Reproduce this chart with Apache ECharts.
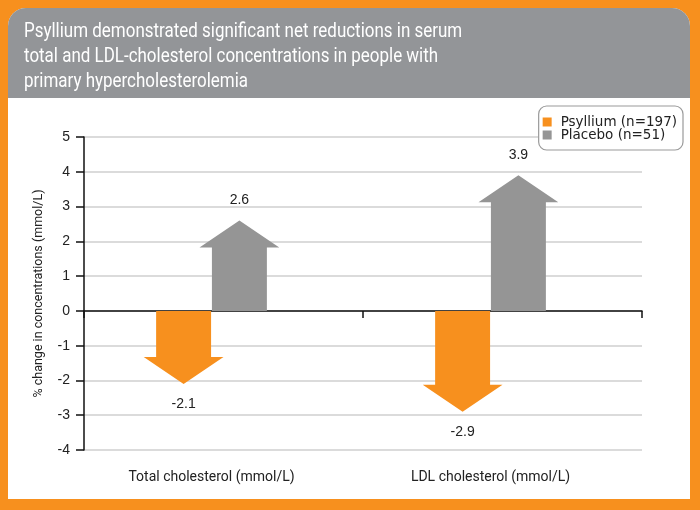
<!DOCTYPE html>
<html>
<head>
<meta charset="utf-8">
<script src="https://cdn.jsdelivr.net/npm/echarts@6/dist/echarts.min.js"></script>
<style>
html,body{margin:0;padding:0;background:#F7901E;}
#c{width:700px;height:510px;}
</style>
</head>
<body>
<div id="c"></div>
<script>
const titleLines = [
  'Psyllium demonstrated significant net reductions in serum',
  'total and LDL-cholesterol concentrations in people with',
  'primary hypercholesterolemia'
];
const categories = ['Total cholesterol (mmol/L)', 'LDL cholesterol (mmol/L)'];
const seriesNames = ['Psyllium (n=197)', 'Placebo (n=51)'];
const psyllium = [-2.1, -2.9];
const placebo = [2.6, 3.9];
const yAxisName = '% change in concentrations (mmol/L)';
const yMin = -4, yMax = 5, yStep = 1;

const ORANGE = '#F7901E';
const GRAY = '#959595';
const NARROW = 'Roboto, "Liberation Sans", sans-serif';

function arrowRenderer(side) {
  return function (params, api) {
    const ci = api.value(0);
    const v = api.value(1);
    const base = api.coord([ci, 0]);
    const tip = api.coord([ci, v]);
    const bw = api.size([1, 0])[0];
    const cx = base[0] - 0.043 * bw + side * 0.1 * bw;
    const bodyHalf = 0.0985 * bw;
    const headHalf = 0.143 * bw;
    const dir = tip[1] < base[1] ? -1 : 1;
    const headH = 27;
    const neckY = tip[1] - dir * headH;
    const pts = [
      [cx - bodyHalf, base[1]],
      [cx - bodyHalf, neckY],
      [cx - headHalf, neckY],
      [cx, tip[1]],
      [cx + headHalf, neckY],
      [cx + bodyHalf, neckY],
      [cx + bodyHalf, base[1]]
    ];
    return {
      type: 'group',
      children: [
        { type: 'polygon', shape: { points: pts }, style: { fill: api.visual('color') } },
        {
          type: 'text',
          style: {
            text: v.toFixed(1),
            x: cx,
            y: tip[1] + dir * 13,
            align: 'center',
            verticalAlign: dir < 0 ? 'bottom' : 'top',
            fill: '#222',
            font: '14px "Liberation Sans", Arial, sans-serif'
          }
        }
      ]
    };
  };
}

const chart = echarts.init(document.getElementById('c'));
chart.setOption({
  backgroundColor: ORANGE,
  animation: false,
  graphic: {
    elements: [
      { type: 'rect', z: -100, shape: { x: 8, y: 8, width: 682, height: 491, r: [18, 18, 0, 0] }, style: { fill: '#ffffff' } },
      { type: 'rect', z: -99, shape: { x: 8, y: 8, width: 682, height: 90, r: [18, 18, 0, 0] }, style: { fill: '#939598' } },
      {
        type: 'text', z: -98, x: 24, y: 20, scaleX: 0.87,
        style: {
          text: titleLines.join('\n'),
          fill: '#ffffff',
          font: '19.5px ' + NARROW,
          lineHeight: 25
        }
      }
    ]
  },
  legend: {
    orient: 'vertical',
    right: 17,
    top: 106,
    data: seriesNames,
    icon: 'path://M0,0H9V9H0Z',
    itemWidth: 17,
    itemHeight: 9,
    itemGap: -1,
    backgroundColor: '#ffffff',
    borderColor: '#9a9a9a',
    borderWidth: 1.2,
    borderRadius: 8,
    padding: [9, 6, 8, 4],
    textStyle: {
      color: '#222',
      fontFamily: '"DejaVu Sans", sans-serif',
      fontSize: 13.5
    }
  },
  grid: { left: 84, right: 58, top: 137, bottom: 60 },
  xAxis: {
    type: 'category',
    data: categories,
    axisLine: { lineStyle: { color: '#111', width: 1.5 } },
    axisTick: { show: true, length: 7, lineStyle: { color: '#111', width: 1.5 } },
    axisLabel: {
      color: '#222',
      fontFamily: NARROW,
      fontSize: 14,
      margin: 20,
      padding: [0, 24, 0, 0]
    },
    splitLine: { show: false }
  },
  yAxis: {
    type: 'value',
    min: yMin,
    max: yMax,
    interval: yStep,
    name: yAxisName,
    nameLocation: 'middle',
    nameGap: 39,
    nameTextStyle: {
      color: '#222',
      fontFamily: NARROW,
      fontSize: 12.5
    },
    axisLine: { show: true, lineStyle: { color: '#111', width: 1.5 } },
    axisTick: { show: true, length: 8, lineStyle: { color: '#111', width: 1.5 } },
    axisLabel: {
      color: '#222',
      fontFamily: '"Liberation Sans", Arial, sans-serif',
      fontSize: 14,
      margin: 14
    },
    splitLine: { show: true, lineStyle: { color: '#cfcfcf', width: 1.5 } }
  },
  series: [
    {
      name: seriesNames[0],
      type: 'custom',
      renderItem: arrowRenderer(-1),
      itemStyle: { color: ORANGE },
      encode: { x: 0, y: 1 },
      data: psyllium.map((v, i) => [i, v])
    },
    {
      name: seriesNames[1],
      type: 'custom',
      renderItem: arrowRenderer(1),
      itemStyle: { color: GRAY },
      encode: { x: 0, y: 1 },
      data: placebo.map((v, i) => [i, v])
    }
  ]
});
</script>
</body>
</html>
